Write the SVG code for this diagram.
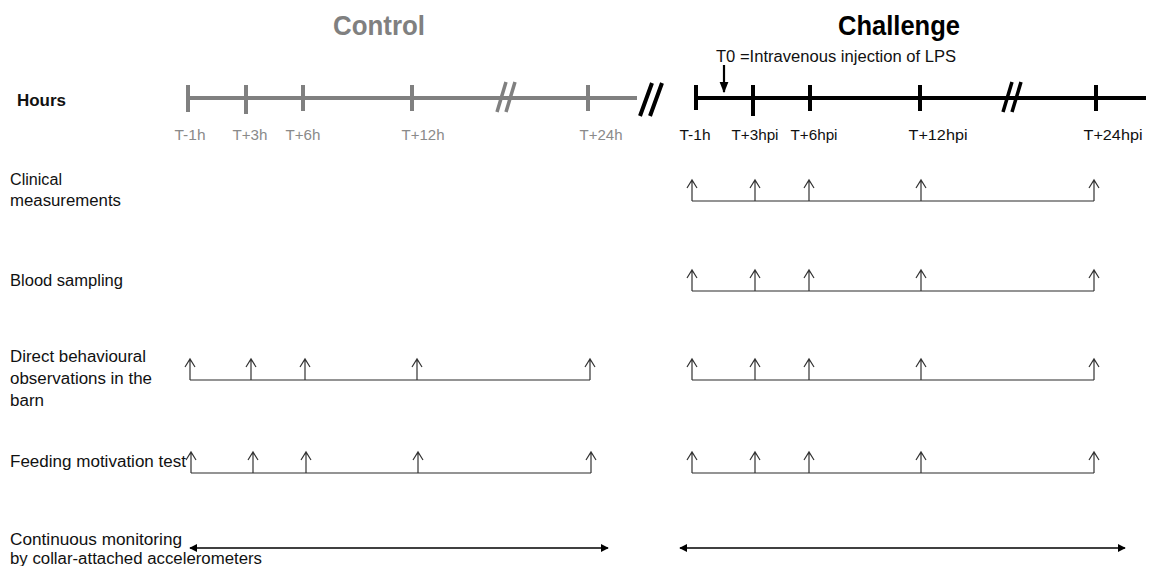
<svg xmlns="http://www.w3.org/2000/svg" width="1155" height="566" viewBox="0 0 1155 566">
<style>
text{font-family:"Liberation Sans",Arial,sans-serif}
.lbl{font-size:16px;fill:#111}
.title{font-size:27px;font-weight:bold}
.tc{font-size:14px;fill:#8a8a8a;text-anchor:middle}
.tk{font-size:14px;fill:#111;text-anchor:middle}
.gl{stroke:#808080;stroke-width:4;fill:none}
.bl{stroke:#000;stroke-width:4;fill:none}
.base{stroke:#707070;stroke-width:1.5;fill:none}
.up{stroke:#333;stroke-width:1.2;fill:none}
.dbl{stroke:#000;stroke-width:1.3;fill:none;marker-start:url(#tri);marker-end:url(#tri)}
</style>
<defs>
<marker id="tri" viewBox="0 0 10 10" refX="9" refY="5" markerWidth="8" markerHeight="8" orient="auto-start-reverse" markerUnits="userSpaceOnUse">
<path d="M0,0 L10,5 L0,10 z" fill="#000"/>
</marker>
<marker id="tri2" viewBox="0 0 10 10" refX="9" refY="5" markerWidth="11" markerHeight="11" orient="auto" markerUnits="userSpaceOnUse">
<path d="M0,1 L10,5 L0,9 z" fill="#000"/>
</marker>
<path id="uparrow" d="M-5,8 L0,0 L5,8 M0,0 V21" />
</defs>

<g id="titles">
<text class="title" x="379" y="35" text-anchor="middle" fill="#808080" textLength="92" lengthAdjust="spacingAndGlyphs">Control</text>
<text class="title" x="899" y="35" text-anchor="middle" fill="#000" textLength="122" lengthAdjust="spacingAndGlyphs">Challenge</text>
<text x="716" y="62" font-size="16" fill="#111" textLength="240" lengthAdjust="spacingAndGlyphs">T0 =Intravenous injection of LPS</text>
<text x="17" y="106" font-size="16" font-weight="bold" fill="#111" textLength="49" lengthAdjust="spacingAndGlyphs">Hours</text>
</g>

<g id="control-timeline">
<path class="gl" d="M188,98 H637 M188,85 V112 M246,85 V114 M303,85 V111 M412,85 V111 M588,85 V111"/>
<path d="M497,112 L506,82 M506,112 L515,82" stroke="#808080" stroke-width="3.5" fill="none"/>
<text class="tc" x="190" y="140" textLength="31" lengthAdjust="spacingAndGlyphs">T-1h</text>
<text class="tc" x="250" y="140" textLength="35" lengthAdjust="spacingAndGlyphs">T+3h</text>
<text class="tc" x="303" y="140" textLength="35" lengthAdjust="spacingAndGlyphs">T+6h</text>
<text class="tc" x="423" y="140" textLength="43" lengthAdjust="spacingAndGlyphs">T+12h</text>
<text class="tc" x="601" y="140" textLength="43" lengthAdjust="spacingAndGlyphs">T+24h</text>
</g>

<g id="break">
<path d="M640,116 L652,83 M650,116 L662,83" stroke="#000" stroke-width="4" fill="none"/>
</g>

<g id="challenge-timeline">
<path class="bl" d="M696,98 H1146 M696,85 V110 M753,85 V116 M810,85 V111 M920,85 V111 M1096,85 V111"/>
<path d="M1003,112 L1012,82 M1012,112 L1021,82" stroke="#000" stroke-width="3.5" fill="none"/>
<text class="tk" x="695" y="140" textLength="31" lengthAdjust="spacingAndGlyphs">T-1h</text>
<text class="tk" x="755" y="140" textLength="47" lengthAdjust="spacingAndGlyphs">T+3hpi</text>
<text class="tk" x="814" y="140" textLength="47" lengthAdjust="spacingAndGlyphs">T+6hpi</text>
<text class="tk" x="938" y="140" textLength="59" lengthAdjust="spacingAndGlyphs">T+12hpi</text>
<text class="tk" x="1113" y="140" textLength="59" lengthAdjust="spacingAndGlyphs">T+24hpi</text>
<path d="M724,65 V92" stroke="#000" stroke-width="2.2" marker-end="url(#tri2)"/>
</g>

<g id="row-clinical">
<text class="lbl" x="10" y="185" textLength="52" lengthAdjust="spacingAndGlyphs">Clinical</text>
<text class="lbl" x="10" y="206" textLength="111" lengthAdjust="spacingAndGlyphs">measurements</text>
<path class="base" d="M692,201 H1094"/>
<g class="up">
<use href="#uparrow" x="692" y="180"/><use href="#uparrow" x="755" y="180"/><use href="#uparrow" x="809" y="180"/><use href="#uparrow" x="921" y="180"/><use href="#uparrow" x="1094" y="180"/>
</g>
</g>

<g id="row-blood">
<text class="lbl" x="10" y="286" textLength="113" lengthAdjust="spacingAndGlyphs">Blood sampling</text>
<path class="base" d="M692,291 H1094"/>
<g class="up">
<use href="#uparrow" x="692" y="270"/><use href="#uparrow" x="755" y="270"/><use href="#uparrow" x="809" y="270"/><use href="#uparrow" x="921" y="270"/><use href="#uparrow" x="1094" y="270"/>
</g>
</g>

<g id="row-direct">
<text class="lbl" x="10" y="362" textLength="136" lengthAdjust="spacingAndGlyphs">Direct behavioural</text>
<text class="lbl" x="10" y="384" textLength="142" lengthAdjust="spacingAndGlyphs">observations in the</text>
<text class="lbl" x="10" y="406" textLength="34" lengthAdjust="spacingAndGlyphs">barn</text>
<path class="base" d="M190,380 H590"/>
<g class="up">
<use href="#uparrow" x="190" y="359"/><use href="#uparrow" x="251" y="359"/><use href="#uparrow" x="305" y="359"/><use href="#uparrow" x="417" y="359"/><use href="#uparrow" x="590" y="359"/>
</g>
<path class="base" d="M692,380 H1094"/>
<g class="up">
<use href="#uparrow" x="692" y="359"/><use href="#uparrow" x="755" y="359"/><use href="#uparrow" x="809" y="359"/><use href="#uparrow" x="921" y="359"/><use href="#uparrow" x="1094" y="359"/>
</g>
</g>

<g id="row-feeding">
<text class="lbl" x="10" y="467" textLength="176" lengthAdjust="spacingAndGlyphs">Feeding motivation test</text>
<path class="base" d="M191,473 H591"/>
<g class="up">
<use href="#uparrow" x="191" y="452"/><use href="#uparrow" x="253" y="452"/><use href="#uparrow" x="306" y="452"/><use href="#uparrow" x="418" y="452"/><use href="#uparrow" x="591" y="452"/>
</g>
<path class="base" d="M692,473 H1094"/>
<g class="up">
<use href="#uparrow" x="692" y="452"/><use href="#uparrow" x="755" y="452"/><use href="#uparrow" x="809" y="452"/><use href="#uparrow" x="921" y="452"/><use href="#uparrow" x="1094" y="452"/>
</g>
</g>

<g id="row-accelerometers">
<text class="lbl" x="10" y="545" textLength="172" lengthAdjust="spacingAndGlyphs">Continuous monitoring</text>
<text class="lbl" x="10" y="564" textLength="252" lengthAdjust="spacingAndGlyphs">by collar-attached accelerometers</text>
</g>

<g id="connectors">
<path class="dbl" d="M190,548 H608"/>
<path class="dbl" d="M680,548 H1125"/>
</g>
</svg>
